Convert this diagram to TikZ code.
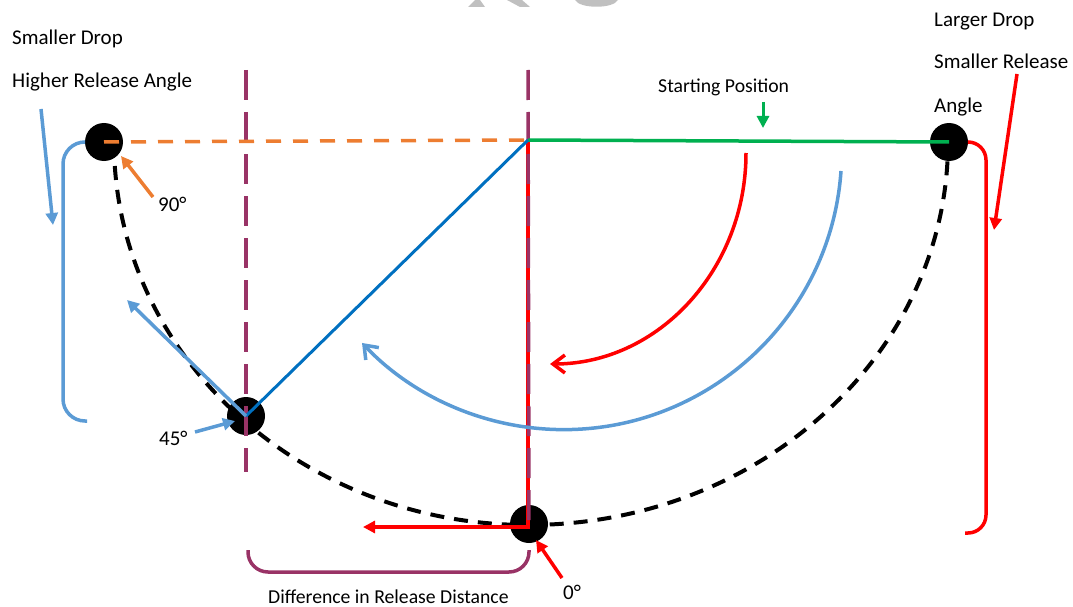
\documentclass[tikz,border=0pt]{standalone}
\usepackage{fontspec}
\setmainfont{Carlito}
\usetikzlibrary{arrows.meta}
\definecolor{cOrange}{HTML}{ED7D31}
\definecolor{cGreen}{HTML}{00B050}
\definecolor{cRed}{HTML}{FF0000}
\definecolor{cLBlue}{HTML}{5B9BD5}
\definecolor{cDBlue}{HTML}{0070C0}
\definecolor{cPurple}{RGB}{153,51,102}
\definecolor{cGray}{RGB}{192,192,192}
\begin{document}
\begin{tikzpicture}[x=1pt,y=-1pt,
  ball/.style={circle,fill=black,minimum size=38pt,inner sep=0pt},
  lbl/.style={inner sep=0pt,anchor=base west,font=\fontsize{21}{25}\selectfont},
  slbl/.style={inner sep=0pt,anchor=base west,font=\fontsize{19.7}{23}\selectfont},
  dashcurve/.style={black,line width=4pt,dash pattern=on 14pt off 10pt},
  vguide/.style={cPurple,line width=3.5pt,dash pattern=on 30pt off 12pt},
  oguide/.style={cOrange,line width=3.5pt,dash pattern=on 15pt off 12pt},
  solidln/.style={line width=3.5pt},
  tri/.style={-{Triangle[length=12pt,width=12pt]}},
  barb/.style={-{Straight Barb[length=12pt,width=18pt]}}]
\useasboundingbox (0,0) rectangle (1073,607);
% watermark fragments
\fill[cGray] (468,7) -- (475,0) -- (480,0) -- (485,7) -- cycle;
\fill[cGray] (507,0) -- (522,0) -- (530,7) -- (520,7) -- cycle;
\fill[cGray] (575,0) .. controls (580,9) and (613,9) .. (618,0) -- cycle;
% positions
\coordinate (Lc) at (104,142);
\coordinate (Rc) at (949,142);
\coordinate (Bcc) at (529,524);
\coordinate (Mc) at (246,416);
\coordinate (P) at (528,140);
% pendulum path
\draw[dashcurve] (Lc) ++(10pt,0) arc[start angle=180,end angle=270,x radius=414pt,y radius=383pt]
  arc[start angle=270,end angle=360,x radius=420pt,y radius=383pt];
% balls
\node[ball] (L) at (Lc) {};
\node[ball] (R) at (Rc) {};
\node[ball] (B) at (Bcc) {};
\node[ball] (M) at (Mc) {};
% red drop + release
\coordinate (Bc) at (528,527);
\coordinate (Rtip) at (363,527);
\draw[cRed,solidln,tri] (P) -- (Bc) -- (Rtip);
% purple guides
\coordinate (T1) at (246,70);
\coordinate (T1b) at (246,472);
\coordinate (T2) at (528,70);
\draw[vguide] (T1) -- (T1b);
\draw[vguide] (T2) -- (B.center);
% orange, green, dark blue
\draw[oguide] (L.center) -- (P);
\draw[cGreen,solidln] (P) -- (R.center);
\draw[cDBlue,line width=3pt] (P) -- (M.center);
% light blue tangent arrow
\coordinate (MA) at (127,300);
\draw[cLBlue,solidln,tri] (M.center) -- (MA);
% curved arrows
\coordinate (RCs) at (746,153);
\draw[cRed,solidln,barb] (RCs) arc[start angle=0,end angle=-90,x radius=196pt,y radius=211pt];
\coordinate (BCs) at (841,171);
\draw[cLBlue,solidln,barb] (BCs) arc[start angle=-4,end angle=-136.5,radius=278pt];
% brackets
\draw[cLBlue,solidln,rounded corners=22pt] (L.west) -- (63,142) -- (63,421) -- (87,421);
\draw[cRed,solidln,rounded corners=18pt] (R.east) -- (986,142) -- (986,533) -- (965,533);
\coordinate (K1) at (248,550);
\coordinate (K2) at (529,550);
\draw[cPurple,solidln,rounded corners=20pt] (K1) -- (248,572) -- (529,572) -- (K2);
% labels
\node[lbl] (t1) at (12,45) {Smaller Drop};
\node[lbl] (t2) at (12,88) {Higher Release Angle};
\node[lbl] (t3) at (934,27) {Larger Drop};
\node[lbl] (t4) at (934,69) {Smaller Release};
\node[lbl] (t5) at (934,113) {Angle};
\node[slbl] (t6) at (658,93) {Starting Position};
\node[lbl] (a90) at (158,211) {90°};
\node[lbl] (a45) at (159,445) {45°};
\node[lbl] (a0) at (563,599) {0°};
\node[slbl] (t7) at (268,603) {Difference in Release Distance};
% pointer arrows
\coordinate (g1) at (763,102); \coordinate (g2) at (763,128);
\draw[cGreen,line width=3pt,tri] (g1) -- (g2);
\coordinate (o1) at (153,197); \coordinate (o2) at (121,156);
\draw[cOrange,solidln,tri] (o1) -- (o2);
\coordinate (b1) at (41,109); \coordinate (b2) at (53,225);
\draw[cLBlue,solidln,tri] (b1) -- (b2);
\coordinate (c1) at (195,432); \coordinate (c2) at (235,421);
\draw[cLBlue,solidln,tri] (c1) -- (c2);
\coordinate (z1) at (562,578); \coordinate (z2) at (536,540);
\draw[cRed,solidln,tri] (z1) -- (z2);
\coordinate (r1) at (1017,74); \coordinate (r2) at (994,230);
\draw[cRed,solidln,tri] (r1) -- (r2);
\end{tikzpicture}
\end{document}
